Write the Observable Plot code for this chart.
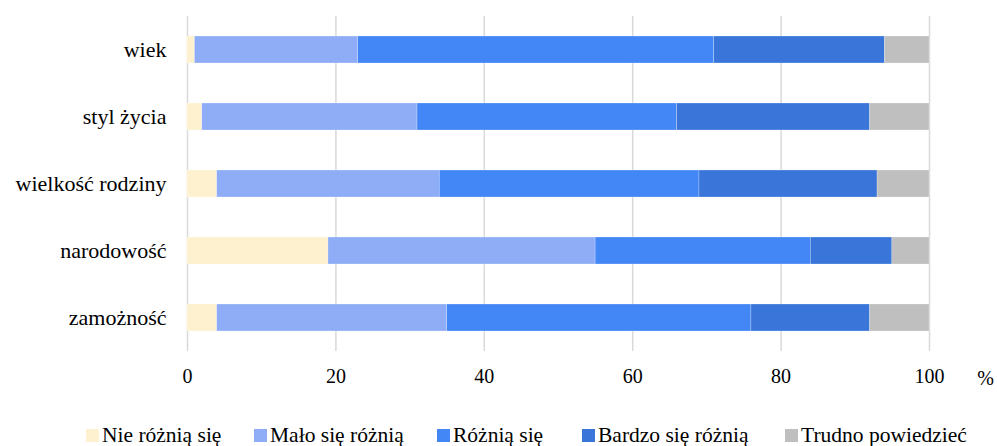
<!DOCTYPE html>
<html>
<head>
<meta charset="utf-8">
<script src="https://cdn.jsdelivr.net/npm/d3@7"></script>
<script src="https://cdn.jsdelivr.net/npm/@observablehq/plot@0.6"></script>
<style>
  html, body { margin: 0; padding: 0; background: #fff; }
  #wrap { position: relative; width: 997px; height: 446px; overflow: hidden; }
  #wrap, #wrap * { font-family: "Liberation Serif", "Times New Roman", Times, serif; }
  #legend { position: absolute; left: 0; top: 425px; width: 997px; height: 21px; font-size: 21.5px; line-height: 21px; color: #000; white-space: nowrap; }
  .item { position: absolute; top: 0; display: flex; align-items: center; height: 21px; }
  .sw { width: 13px; height: 13px; margin-right: 3px; }
</style>
</head>
<body>
<div id="wrap"><div id="chart"></div><div id="legend"></div></div>
<script>
const categories = ["wiek", "styl życia", "wielkość rodziny", "narodowość", "zamożność"];
const seriesNames = ["Nie różnią się", "Mało się różnią", "Różnią się", "Bardzo się różnią", "Trudno powiedzieć"];
const seriesColors = ["#FEF1D0", "#8FADF7", "#4287F5", "#3A76D9", "#BFBFBF"];
const nieRoznia = [1, 2, 4, 19, 4];
const maloRoznia = [22, 29, 30, 36, 31];
const roznia = [48, 35, 35, 29, 41];
const bardzoRoznia = [23, 26, 24, 11, 16];
const trudno = [6, 8, 7, 5, 8];
const xTicks = [0, 20, 40, 60, 80, 100];

const seriesValues = [nieRoznia, maloRoznia, roznia, bardzoRoznia, trudno];
const data = [];
seriesNames.forEach((s, i) => categories.forEach((c, j) => data.push({series: s, category: c, value: seriesValues[i][j]})));

const chart = Plot.plot({
  width: 997,
  height: 400,
  marginTop: 16,
  marginBottom: 49,
  marginLeft: 187,
  marginRight: 68,
  style: {fontFamily: "'Liberation Serif', 'Times New Roman', serif", fontSize: "20px", color: "#000", background: "#fff"},
  x: {domain: [0, 100]},
  y: {domain: categories, paddingInner: 0.6, paddingOuter: 0.3},
  color: {domain: seriesNames, range: seriesColors},
  marks: [
    Plot.ruleX(xTicks, {stroke: "#D9D9D9", strokeWidth: 1.5}),
    Plot.barX(data, {x: "value", y: "category", fill: "series", z: "series", stroke: "#ffffff", strokeWidth: 0.4, strokeOpacity: 0.6}),
    Plot.axisY({tickSize: 0, tickPadding: 21, fontSize: 22, label: null}),
    Plot.axisX({ticks: xTicks, tickSize: 0, tickPadding: 17, fontSize: 20, label: null}),
    Plot.text(["%"], {x: () => 100, frameAnchor: "bottom", dx: 56, dy: 27, fontSize: 20, lineAnchor: "middle", clip: false})
  ]
});
document.getElementById("chart").appendChild(chart);

// legend layout (item left edges, px)
const legendLefts = [86, 254, 437, 582, 785];
const legend = document.getElementById("legend");
seriesNames.forEach((s, i) => {
  const it = document.createElement("div");
  it.className = "item";
  it.style.left = legendLefts[i] + "px";
  const sw = document.createElement("span");
  sw.className = "sw";
  sw.style.background = seriesColors[i];
  const t = document.createElement("span");
  t.textContent = s;
  it.appendChild(sw);
  it.appendChild(t);
  legend.appendChild(it);
});
</script>
</body>
</html>
